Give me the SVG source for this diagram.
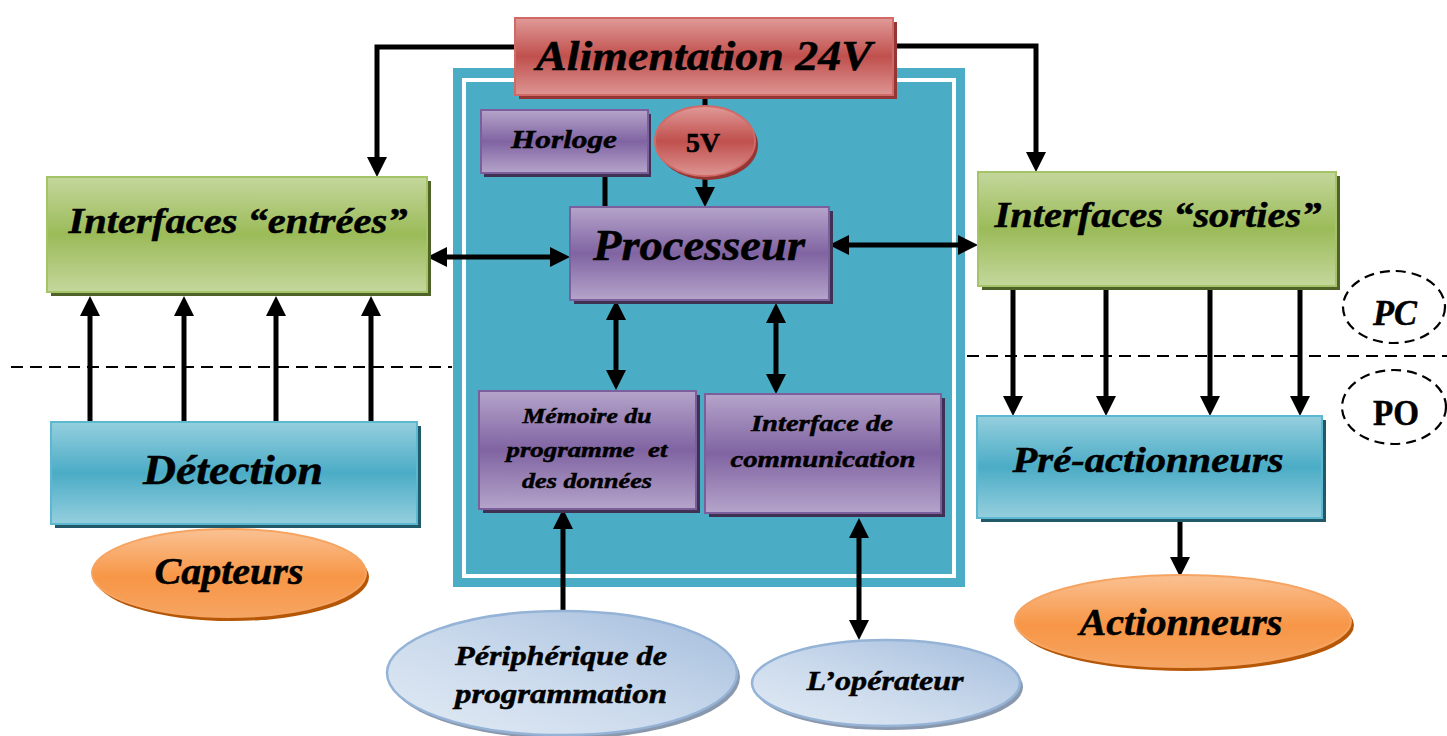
<svg xmlns="http://www.w3.org/2000/svg" width="1447" height="736" viewBox="0 0 1447 736">
<style>
.t{font-family:"Liberation Serif",serif;font-weight:bold;font-style:italic;fill:#000;stroke:#000;stroke-width:0.5;text-anchor:middle}
.u{font-style:normal}
.c{fill:none;stroke:#000;stroke-width:5}
.d{fill:none;stroke:#000;stroke-width:2;stroke-dasharray:12 7}
.dl{fill:none;stroke:#000;stroke-width:2.2;stroke-dasharray:10 6}
</style>
<defs>
<linearGradient id="gR" x1="0" y1="0" x2="0" y2="1"><stop offset="0" stop-color="#e09a98"/><stop offset="0.5" stop-color="#c0504d"/><stop offset="1" stop-color="#dd9593"/></linearGradient>
<linearGradient id="gP" x1="0" y1="0" x2="0" y2="1"><stop offset="0" stop-color="#b5a4ca"/><stop offset="0.5" stop-color="#8064a2"/><stop offset="1" stop-color="#b5a4ca"/></linearGradient>
<linearGradient id="gG" x1="0" y1="0" x2="0" y2="1"><stop offset="0" stop-color="#c4d79c"/><stop offset="0.5" stop-color="#9bbb59"/><stop offset="1" stop-color="#c4d79c"/></linearGradient>
<linearGradient id="gT" x1="0" y1="0" x2="0" y2="1"><stop offset="0" stop-color="#95cfde"/><stop offset="0.5" stop-color="#4bacc6"/><stop offset="1" stop-color="#95cfde"/></linearGradient>
<linearGradient id="gO" x1="0" y1="0" x2="0" y2="1"><stop offset="0" stop-color="#fac193"/><stop offset="0.55" stop-color="#f79646"/><stop offset="1" stop-color="#f6a462"/></linearGradient>
<linearGradient id="gB" x1="1" y1="0" x2="0" y2="1"><stop offset="0" stop-color="#a3bcdc"/><stop offset="0.5" stop-color="#c8d8eb"/><stop offset="1" stop-color="#e3ebf5"/></linearGradient>
<marker id="ah" viewBox="0 0 20 20" refX="9" refY="10" markerWidth="20" markerHeight="20" markerUnits="userSpaceOnUse" orient="auto-start-reverse"><path d="M0,0 L20,10 L0,20 z" fill="#000"/></marker>
</defs>
<rect width="1447" height="736" fill="#fff"/>

<g id="automate">
<rect x="453" y="68" width="512" height="519" fill="#4bacc6"/>
<rect x="464" y="80" width="490" height="496" fill="none" stroke="#fff" stroke-width="4"/>
</g>

<g id="separateurs">
<path class="d" d="M11,367 H452"/>
<path class="d" d="M967,356 H1447"/>
</g>

<g id="connecteurs">
<path class="c" d="M705,95 V110"/>
<path class="c" d="M605,175 V207"/>
<path class="c" d="M515,47 H377 V166" marker-end="url(#ah)"/>
<path class="c" d="M893,46 H1036 V161" marker-end="url(#ah)"/>
<path class="c" d="M705,176 V196" marker-end="url(#ah)"/>
<path class="c" d="M438,257 H559" marker-start="url(#ah)" marker-end="url(#ah)"/>
<path class="c" d="M840,245 H967" marker-start="url(#ah)" marker-end="url(#ah)"/>
<path class="c" d="M616,311 V379" marker-start="url(#ah)" marker-end="url(#ah)"/>
<path class="c" d="M776,314 V383" marker-start="url(#ah)" marker-end="url(#ah)"/>
<path class="c" d="M563,612 V520" marker-end="url(#ah)"/>
<path class="c" d="M859,529 V629" marker-start="url(#ah)" marker-end="url(#ah)"/>
<path class="c" d="M90,422 V307" marker-end="url(#ah)"/>
<path class="c" d="M184,422 V307" marker-end="url(#ah)"/>
<path class="c" d="M276,422 V307" marker-end="url(#ah)"/>
<path class="c" d="M371,422 V307" marker-end="url(#ah)"/>
<path class="c" d="M1013,290 V405" marker-end="url(#ah)"/>
<path class="c" d="M1106,290 V405" marker-end="url(#ah)"/>
<path class="c" d="M1210,290 V405" marker-end="url(#ah)"/>
<path class="c" d="M1300,290 V405" marker-end="url(#ah)"/>
<path class="c" d="M1180,522 V566" marker-end="url(#ah)"/>
</g>

<g id="alimentation">
<rect x="519" y="22" width="378" height="77" fill="#943634"/>
<rect x="515" y="18" width="378" height="77" fill="url(#gR)" stroke="#d16a67" stroke-width="2"/>
<text class="t" x="704" y="70" font-size="42" textLength="336" lengthAdjust="spacingAndGlyphs">Alimentation 24V</text>
</g>

<g id="horloge">
<rect x="484" y="114" width="167" height="63" fill="#3f3151"/>
<rect x="481" y="110" width="167" height="63" fill="url(#gP)" stroke="#7a5f9c" stroke-width="2"/>
<text class="t" x="564" y="148" font-size="26" textLength="106" lengthAdjust="spacingAndGlyphs">Horloge</text>
</g>

<g id="cinqV">
<ellipse cx="708" cy="145" rx="50" ry="35" fill="#943634"/>
<ellipse cx="705" cy="141" rx="50" ry="35" fill="url(#gR)" stroke="#d16a67" stroke-width="2"/>
<text class="t u" x="703" y="152" font-size="27" textLength="34" lengthAdjust="spacingAndGlyphs">5V</text>
</g>

<g id="processeur">
<rect x="574" y="211" width="259" height="93" fill="#3f3151"/>
<rect x="570" y="207" width="259" height="93" fill="url(#gP)" stroke="#7a5f9c" stroke-width="2"/>
<text class="t" x="699" y="260" font-size="44" textLength="212" lengthAdjust="spacingAndGlyphs">Processeur</text>
</g>

<g id="memoire">
<rect x="483" y="395" width="217" height="118" fill="#3f3151"/>
<rect x="479" y="391" width="217" height="118" fill="url(#gP)" stroke="#7a5f9c" stroke-width="2"/>
<text class="t" x="587" y="423" font-size="22" textLength="129" lengthAdjust="spacingAndGlyphs">Mémoire du</text>
<text class="t" x="587" y="457" font-size="22" textLength="161" lengthAdjust="spacingAndGlyphs" style="white-space:pre">programme  et</text>
<text class="t" x="587" y="488" font-size="22" textLength="130" lengthAdjust="spacingAndGlyphs">des données</text>
</g>

<g id="interface-comm">
<rect x="709" y="398" width="236" height="119" fill="#3f3151"/>
<rect x="705" y="394" width="236" height="119" fill="url(#gP)" stroke="#7a5f9c" stroke-width="2"/>
<text class="t" x="822" y="431" font-size="24" textLength="142" lengthAdjust="spacingAndGlyphs">Interface de</text>
<text class="t" x="823" y="467" font-size="24" textLength="185" lengthAdjust="spacingAndGlyphs">communication</text>
</g>

<g id="entrees">
<rect x="51" y="181" width="380" height="115" fill="#4f6228"/>
<rect x="47" y="177" width="380" height="115" fill="url(#gG)" stroke="#a5c46a" stroke-width="2"/>
<text class="t" x="238" y="233" font-size="35" textLength="339" lengthAdjust="spacingAndGlyphs">Interfaces “entrées”</text>
</g>

<g id="sorties">
<rect x="982" y="176" width="358" height="114" fill="#4f6228"/>
<rect x="978" y="172" width="358" height="114" fill="url(#gG)" stroke="#a5c46a" stroke-width="2"/>
<text class="t" x="1158" y="227" font-size="35" textLength="327" lengthAdjust="spacingAndGlyphs">Interfaces “sorties”</text>
</g>

<g id="detection">
<rect x="55" y="426" width="366" height="102" fill="#215968"/>
<rect x="51" y="422" width="366" height="102" fill="url(#gT)" stroke="#5bb8d0" stroke-width="2"/>
<text class="t" x="233" y="484" font-size="42" textLength="180" lengthAdjust="spacingAndGlyphs">Détection</text>
</g>

<g id="pre-actionneurs">
<rect x="981" y="420" width="345" height="102" fill="#215968"/>
<rect x="977" y="416" width="345" height="102" fill="url(#gT)" stroke="#5bb8d0" stroke-width="2"/>
<text class="t" x="1148" y="472" font-size="36" textLength="271" lengthAdjust="spacingAndGlyphs">Pré-actionneurs</text>
</g>

<g id="capteurs">
<ellipse cx="232" cy="577" rx="137" ry="44" fill="#b65708"/>
<ellipse cx="229" cy="573" rx="137" ry="44" fill="url(#gO)" stroke="#f6a462" stroke-width="2"/>
<text class="t" x="229" y="584" font-size="37" textLength="149" lengthAdjust="spacingAndGlyphs">Capteurs</text>
</g>

<g id="actionneurs">
<ellipse cx="1186" cy="625" rx="168" ry="46" fill="#b65708"/>
<ellipse cx="1183" cy="621" rx="168" ry="46" fill="url(#gO)" stroke="#f6a462" stroke-width="2"/>
<text class="t" x="1181" y="635" font-size="37" textLength="203" lengthAdjust="spacingAndGlyphs">Actionneurs</text>
</g>

<g id="peripherique">
<ellipse cx="565" cy="677" rx="175" ry="62" fill="#8a98ad"/>
<ellipse cx="562" cy="673" rx="175" ry="62" fill="url(#gB)" stroke="#95b3d7" stroke-width="2.5"/>
<text class="t" x="561" y="665" font-size="28" textLength="212" lengthAdjust="spacingAndGlyphs">Périphérique de</text>
<text class="t" x="561" y="703" font-size="28" textLength="212" lengthAdjust="spacingAndGlyphs">programmation</text>
</g>

<g id="operateur">
<ellipse cx="889" cy="687" rx="134" ry="43" fill="#8a98ad"/>
<ellipse cx="886" cy="683" rx="134" ry="43" fill="url(#gB)" stroke="#95b3d7" stroke-width="2.5"/>
<text class="t" x="885" y="690" font-size="28" textLength="157" lengthAdjust="spacingAndGlyphs">L’opérateur</text>
</g>

<g id="pc">
<ellipse class="dl" cx="1394" cy="307" rx="51" ry="36"/>
<text class="t" x="1395" y="325" font-size="36" textLength="44" lengthAdjust="spacingAndGlyphs">PC</text>
</g>

<g id="po">
<ellipse class="dl" cx="1394" cy="407" rx="52" ry="37"/>
<text class="t u" x="1396" y="425" font-size="36" textLength="46" lengthAdjust="spacingAndGlyphs">PO</text>
</g>
</svg>
